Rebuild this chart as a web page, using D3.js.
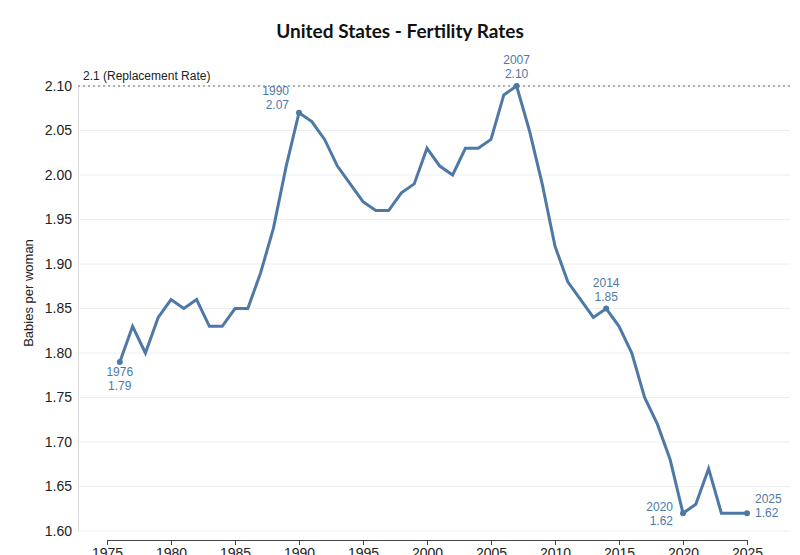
<!DOCTYPE html>
<html><head><meta charset="utf-8">
<script src="https://cdn.jsdelivr.net/npm/d3@7"></script>
<style>body{margin:0;background:#fff;font-family:"Liberation Sans",Arial,sans-serif}</style>
</head><body><svg id="c" width="800" height="555"></svg>
<script>
const years=d3.range(1976,2026);
const rates=[1.79,1.83,1.80,1.84,1.86,1.85,1.86,1.83,1.83,1.85,1.85,1.89,1.94,2.01,2.07,2.06,2.04,2.01,1.99,1.97,1.96,1.96,1.98,1.99,2.03,2.01,2.00,2.03,2.03,2.04,2.09,2.10,2.05,1.99,1.92,1.88,1.86,1.84,1.85,1.83,1.80,1.75,1.72,1.68,1.62,1.63,1.67,1.62,1.62,1.62];
const yTicks=[1.60,1.65,1.70,1.75,1.80,1.85,1.90,1.95,2.00,2.05,2.10];
const xTicks=[1975,1980,1985,1990,1995,2000,2005,2010,2015,2020,2025];
const labels=[{y:1976,pos:"below"},{y:1990,pos:"left"},{y:2007,pos:"above"},{y:2014,pos:"above"},{y:2020,pos:"left"},{y:2025,pos:"right"}];
const svg=d3.select("#c");
const x=d3.scaleLinear().domain([1975,2025]).range([107,747]);
const y=d3.scaleLinear().domain([1.60,2.10]).range([531,86]);
const col="#4e79a7";
svg.append("text").attr("x",400).attr("y",38).attr("text-anchor","middle").attr("font-size",19).attr("font-weight","bold").attr("font-family","Lato,sans-serif").attr("fill","#111").text("United States - Fertility Rates");
yTicks.forEach(t=>{svg.append("line").attr("x1",78).attr("x2",790).attr("y1",y(t)).attr("y2",y(t)).attr("stroke","#eee");});
const ya=svg.append("g").attr("transform","translate(78,0)").call(d3.axisLeft(y).tickValues(yTicks).tickFormat(d3.format(".2f")).tickSize(0).tickPadding(6));
ya.select(".domain").attr("stroke","#ddd");
ya.selectAll("text").attr("font-size",14).attr("fill","#222").attr("font-family","Liberation Sans,Arial,sans-serif");
const xa=svg.append("g").attr("transform","translate(0,540)").call(d3.axisBottom(x).tickValues(xTicks).tickFormat(d3.format("d")).tickSize(5));
xa.select(".domain").attr("stroke","#444");
xa.selectAll("line").attr("stroke","#444");
xa.selectAll("text").attr("font-size",14).attr("fill","#222").attr("font-family","Liberation Sans,Arial,sans-serif");
svg.append("text").attr("transform","translate(33,293) rotate(-90)").attr("text-anchor","middle").attr("font-size",13).attr("fill","#222").text("Babies per woman");
svg.append("line").attr("x1",78).attr("x2",790).attr("y1",y(2.1)).attr("y2",y(2.1)).attr("stroke","#999").attr("stroke-width",1.5).attr("stroke-dasharray","2,3");
svg.append("text").attr("x",83).attr("y",y(2.1)-6).attr("font-size",12).attr("fill","#222").text("2.1 (Replacement Rate)");
svg.append("path").datum(years.map((d,i)=>[d,rates[i]])).attr("d",d3.line().x(d=>x(d[0])).y(d=>y(d[1]))).attr("fill","none").attr("stroke",col).attr("stroke-width",3);
labels.forEach(l=>{const v=rates[l.y-1976],px=x(l.y),py=y(v);
 svg.append("circle").attr("cx",px).attr("cy",py).attr("r",3).attr("fill",col);
 let tx=px,ty,anc="middle";
 if(l.pos==="above"){ty=py-22;}else if(l.pos==="below"){ty=py+14;}else if(l.pos==="left"){tx=px-10;ty=py-18;anc="end";}else{tx=px+8;ty=py-10;anc="start";}
 if(l.pos==="left"&&l.y===2020){ty=py-2;}
 const t=svg.append("text").attr("font-size",12).attr("fill",col).attr("text-anchor",anc);
 t.append("tspan").attr("x",tx).attr("y",ty).text(l.y);
 t.append("tspan").attr("x",tx).attr("y",ty+14).text(v.toFixed(2));
});
</script></body></html>
